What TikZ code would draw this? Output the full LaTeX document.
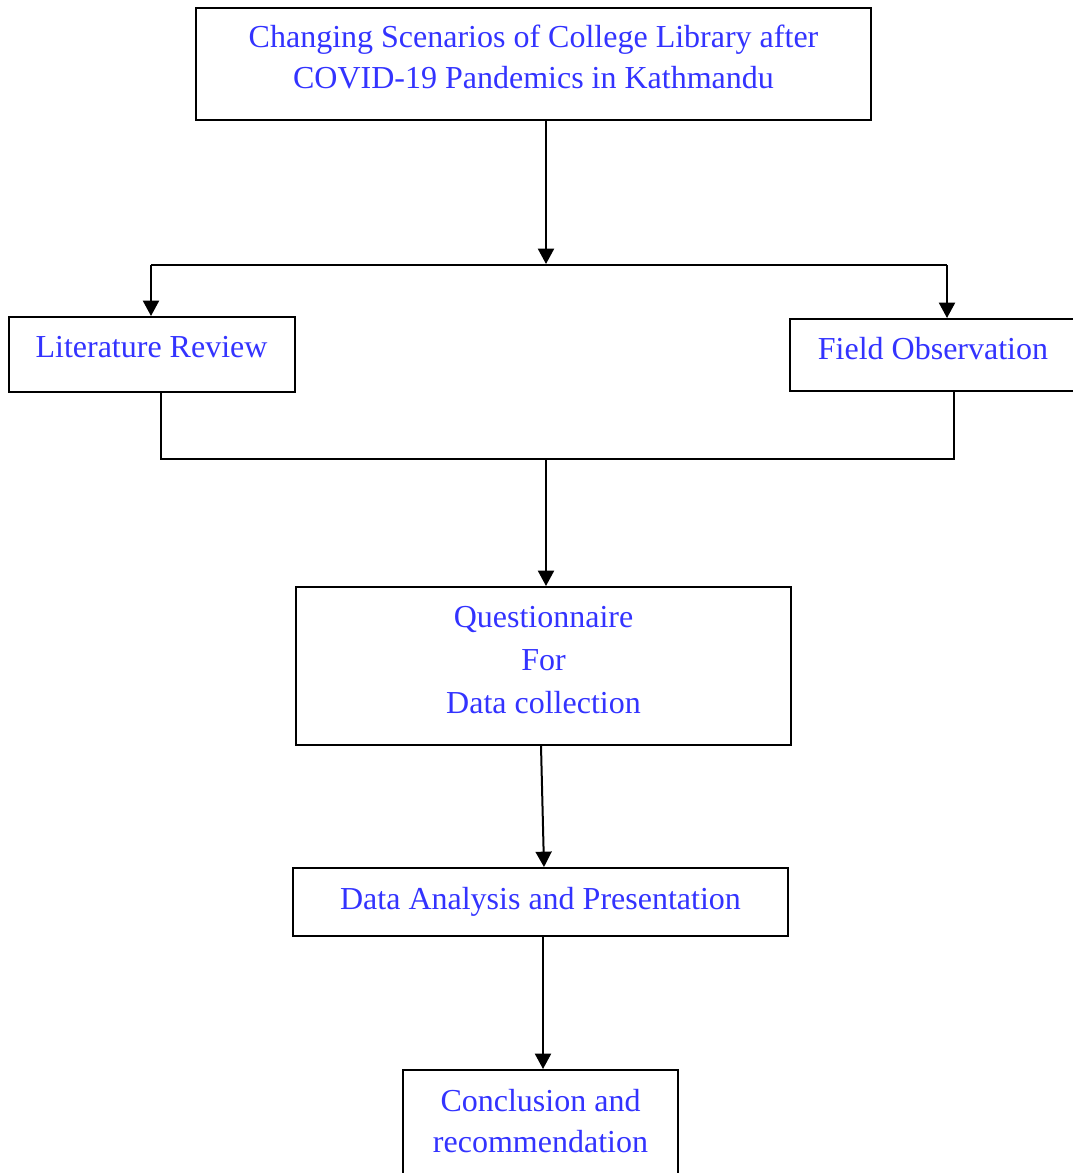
\documentclass[tikz,border=0pt]{standalone}
\usepackage{fontspec}
\setmainfont{Liberation Serif}
\usetikzlibrary{arrows.meta}
\definecolor{txtblue}{RGB}{51,51,255}
\tikzset{
  box/.style={draw=black, line width=1.5pt, rectangle, inner sep=0pt},
  lbl/.style={anchor=base, inner sep=0pt, text=txtblue, font=\fontsize{24pt}{30pt}\selectfont},
  conn/.style={draw=black, line width=1.5pt},
  arr/.style={conn, -{Triangle[length=11.5pt,width=12pt]}}
}
\begin{document}
\begin{tikzpicture}[x=0.75pt,y=-0.75pt]
\useasboundingbox (0,0) rectangle (1073,1173);
\fill[white] (0,0) rectangle (1073,1173);

% boxes
\node[box, minimum width=675*0.75pt, minimum height=112*0.75pt] (top) at (533.5,64) {};
\node[box, minimum width=286*0.75pt, minimum height=75*0.75pt] (lit) at (152,354.5) {};
\node[box, minimum width=286*0.75pt, minimum height=72*0.75pt] (field) at (933,355) {};
\node[box, minimum width=495*0.75pt, minimum height=158*0.75pt] (quest) at (543.5,666) {};
\node[box, minimum width=495*0.75pt, minimum height=68*0.75pt] (data) at (540.5,902) {};
\node[box, minimum width=275*0.75pt, minimum height=108*0.75pt] (concl) at (540.5,1124) {};

% texts
\node[lbl] (t1) at (533.5,48) {Changing Scenarios of College Library after};
\node[lbl] (t2) at (533.5,89) {COVID-19 Pandemics in Kathmandu};
\node[lbl] (tlit) at (151.5,357) {Literature Review};
\node[lbl] (tfield) at (933,359) {Field Observation};
\node[lbl] (tq1) at (543.5,627) {Questionnaire};
\node[lbl] (tq2) at (543.5,670) {For};
\node[lbl] (tq3) at (543.5,713) {Data collection};
\node[lbl] (tdata) at (540.5,909) {Data Analysis and Presentation};
\node[lbl] (tc1) at (540.5,1111) {Conclusion and};
\node[lbl] (tc2) at (540.5,1152) {recommendation};

% junction coordinates
\coordinate (j1) at (546,264);
\coordinate (hl) at (151,265);
\coordinate (hr) at (947,265);
\coordinate (bl) at (161,459);
\coordinate (br) at (954,459);
\coordinate (j2) at (546,459);

% connectors
\draw[arr] (top.south -| j1) -- (j1);
\draw[conn] (hl) -- (hr);
\draw[arr] (hl) -- (lit.north -| hl);
\draw[arr] (hr) -- (field.north -| hr);
\draw[conn] (lit.south -| bl) -- (bl) -- (br) -- (field.south -| br);
\draw[arr] (j2) -- (quest.north -| j2);
\draw[arr] ([xshift=-1.875pt]quest.south) -- ([xshift=2.625pt]data.north);
\draw[arr] ([xshift=1.875pt]data.south) -- ([xshift=1.875pt]concl.north);
\end{tikzpicture}
\end{document}
